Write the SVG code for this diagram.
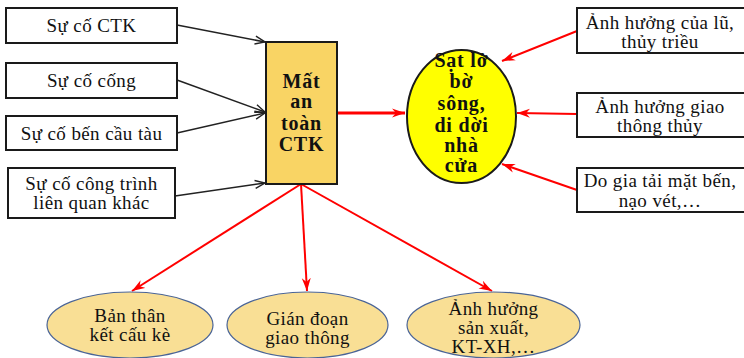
<svg xmlns="http://www.w3.org/2000/svg" width="744" height="358" viewBox="0 0 744 358">
  <style>
    .box { fill: #ffffff; stroke: #1a1a1a; stroke-width: 2; }
    .t { font-family: "Liberation Serif", "Times New Roman", serif; font-size: 19px; letter-spacing: 0.4px; fill: #111; text-anchor: middle; }
    .tb { font-family: "Liberation Serif", "Times New Roman", serif; font-size: 20px; letter-spacing: 0.8px; font-weight: bold; fill: #111; text-anchor: middle; }
    .blk { stroke: #222; stroke-width: 1.5; fill: none; marker-end: url(#ab); }
    .red { stroke: #ff0000; stroke-width: 2; fill: none; marker-end: url(#ar); }
    .oval { fill: #f9df95; stroke: #4a6496; stroke-width: 1.2; }
  </style>
  <defs>
    <marker id="ab" viewBox="0 0 12 10" refX="11" refY="5" markerWidth="12" markerHeight="10" markerUnits="userSpaceOnUse" orient="auto">
      <path d="M1,1 L11,5 L1,9" fill="none" stroke="#222" stroke-width="1.4"/>
    </marker>
    <marker id="ar" viewBox="0 0 14 10" refX="13" refY="5" markerWidth="14" markerHeight="10" markerUnits="userSpaceOnUse" orient="auto">
      <path d="M0,0.5 L13,5 L0,9.5 L4,5 Z" fill="#ff0000"/>
    </marker>
  </defs>

  <!-- connectors -->
  <g id="connectors">
    <line class="blk" x1="177" y1="25" x2="265" y2="42"/>
    <line class="blk" x1="177" y1="80" x2="265" y2="112"/>
    <line class="blk" x1="177" y1="133" x2="265" y2="113"/>
    <line class="blk" x1="175" y1="196" x2="265" y2="183"/>
    <line class="red" x1="337" y1="113" x2="405" y2="113" style="stroke-width:3"/>
    <line class="red" x1="577" y1="31" x2="502" y2="61"/>
    <line class="red" x1="577" y1="114" x2="517" y2="113"/>
    <line class="red" x1="577" y1="190" x2="502" y2="164"/>
    <line class="red" x1="301" y1="184" x2="132" y2="291"/>
    <line class="red" x1="301" y1="184" x2="307" y2="291"/>
    <line class="red" x1="301" y1="184" x2="492" y2="291"/>
  </g>

  <!-- left causes -->
  <g id="n-ctk">
    <rect class="box" x="6" y="8" width="171" height="35"/>
    <text class="t" x="91.5" y="32">Sự cố CTK</text>
  </g>
  <g id="n-cong">
    <rect class="box" x="6" y="63" width="171" height="35"/>
    <text class="t" x="91.5" y="87">Sự cố cống</text>
  </g>
  <g id="n-ben">
    <rect class="box" x="6" y="116" width="171" height="34"/>
    <text class="t" x="91.5" y="140">Sự cố bến cầu tàu</text>
  </g>
  <g id="n-khac">
    <rect class="box" x="8" y="168" width="167" height="50"/>
    <text class="t" x="91.5" y="190">Sự cố công trình</text>
    <text class="t" x="91.5" y="209">liên quan khác</text>
  </g>

  <!-- central node -->
  <g id="n-matantoan">
    <rect x="266" y="42" width="71" height="142" fill="#f9d464" stroke="#1a1a1a" stroke-width="2"/>
    <text class="tb" x="301.5" y="88">Mất</text>
    <text class="tb" x="301.5" y="108">an</text>
    <text class="tb" x="301.5" y="130">toàn</text>
    <text class="tb" x="301.5" y="151">CTK</text>
  </g>

  <!-- landslide node -->
  <g id="n-satlo">
    <ellipse cx="461.5" cy="116.5" rx="54.5" ry="66.5" fill="#ffff00" stroke="#1a1a1a" stroke-width="2"/>
    <text class="tb" x="461.5" y="67">Sạt lở</text>
    <text class="tb" x="461.5" y="88">bờ</text>
    <text class="tb" x="461.5" y="110">sông,</text>
    <text class="tb" x="461.5" y="132">di dời</text>
    <text class="tb" x="461.5" y="152">nhà</text>
    <text class="tb" x="461.5" y="172">cửa</text>
  </g>

  <!-- right factors -->
  <g id="n-lu">
    <rect class="box" x="577" y="8" width="170" height="45"/>
    <text class="t" x="660" y="29">Ảnh hưởng của lũ,</text>
    <text class="t" x="660" y="48">thủy triều</text>
  </g>
  <g id="n-giaothong">
    <rect class="box" x="577" y="93" width="170" height="44"/>
    <text class="t" x="660" y="113">Ảnh hưởng giao</text>
    <text class="t" x="660" y="132">thông thủy</text>
  </g>
  <g id="n-giatai">
    <rect class="box" x="577" y="168" width="170" height="44"/>
    <text class="t" x="660" y="187">Do gia tải mặt bến,</text>
    <text class="t" x="660" y="207">nạo vét,…</text>
  </g>

  <!-- consequences -->
  <g id="n-banthan">
    <ellipse class="oval" cx="130" cy="325" rx="83" ry="33"/>
    <text class="t" x="130" y="322">Bản thân</text>
    <text class="t" x="130" y="341">kết cấu kè</text>
  </g>
  <g id="n-giandoan">
    <ellipse class="oval" cx="307.5" cy="325" rx="80.5" ry="33"/>
    <text class="t" x="307.5" y="325">Gián đoạn</text>
    <text class="t" x="307.5" y="344">giao thông</text>
  </g>
  <g id="n-sanxuat">
    <ellipse class="oval" cx="493.5" cy="325" rx="86.5" ry="33"/>
    <text class="t" x="493.5" y="315">Ảnh hưởng</text>
    <text class="t" x="493.5" y="334">sản xuất,</text>
    <text class="t" x="493.5" y="353">KT-XH,…</text>
  </g>
</svg>
